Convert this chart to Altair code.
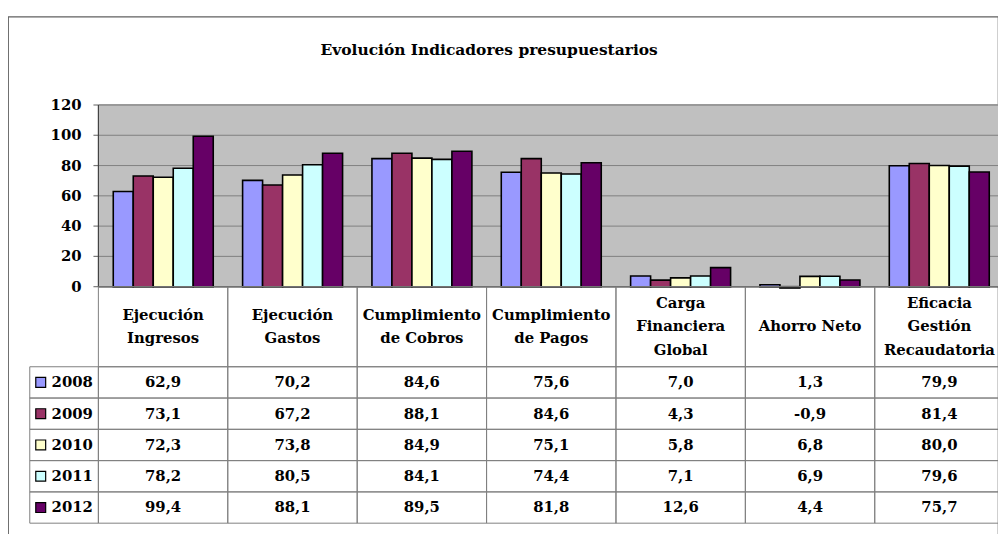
import altair as alt
import pandas as pd

# ---------------- data ----------------
categories = [
    "Ejecución Ingresos",
    "Ejecución Gastos",
    "Cumplimiento de Cobros",
    "Cumplimiento de Pagos",
    "Carga Financiera Global",
    "Ahorro Neto",
    "Eficacia Gestión Recaudatoria",
]
header_lines = [
    ["Ejecución", "Ingresos"],
    ["Ejecución", "Gastos"],
    ["Cumplimiento", "de Cobros"],
    ["Cumplimiento", "de Pagos"],
    ["Carga", "Financiera", "Global"],
    ["Ahorro Neto"],
    ["Eficacia", "Gestión", "Recaudatoria"],
]
years = ["2008", "2009", "2010", "2011", "2012"]
v2008 = [62.9, 70.2, 84.6, 75.6, 7.0, 1.3, 79.9]
v2009 = [73.1, 67.2, 88.1, 84.6, 4.3, -0.9, 81.4]
v2010 = [72.3, 73.8, 84.9, 75.1, 5.8, 6.8, 80.0]
v2011 = [78.2, 80.5, 84.1, 74.4, 7.1, 6.9, 79.6]
v2012 = [99.4, 88.1, 89.5, 81.8, 12.6, 4.4, 75.7]
y_ticks = [0, 20, 40, 60, 80, 100, 120]
colors = ["#9999FF", "#993366", "#FFFFCC", "#CCFFFF", "#660066"]

series = [v2008, v2009, v2010, v2011, v2012]
rows = []
for y, vals in zip(years, series):
    for c, v in zip(categories, vals):
        rows.append({"cat": c, "year": y, "value": v,
                     "label": f"{v:.1f}".replace(".", ",")})
df = pd.DataFrame(rows)

head_rows = []
for c, lines in zip(categories, header_lines):
    n = len(lines)
    for i, t in enumerate(lines):
        head_rows.append({"cat": c, "line": t, "off": i - (n - 1) / 2})
df_head_text = pd.DataFrame(head_rows)
df_head = pd.DataFrame({"cat": categories, "h": "h"})
df_ticks = pd.DataFrame({"tick": y_ticks})
df_grid = pd.DataFrame({"tick": [t for t in y_ticks if 0 < t < 120]})
df_leg = pd.DataFrame({"year": years, "leg": "leg"})
df_one = pd.DataFrame({"a": [0]})

FONT = "DejaVu Serif"

# ---------------- scales (layout) ----------------
XR = [91.3, 1006.2]
x_bar = alt.Scale(domain=categories, range=XR, paddingInner=0.227, paddingOuter=0.115)
x_tab = alt.Scale(domain=categories, range=XR, paddingInner=0, paddingOuter=0)
x_plot = alt.Scale(domain=[0, 1], range=XR)
x_leg = alt.Scale(domain=["leg"], range=[22, 91.3], paddingInner=0, paddingOuter=0)
y_val = alt.Scale(domain=[0, 120], range=[272.8, 89.3], zero=False, nice=False)
y_head = alt.Scale(domain=["h"], range=[272.8, 353.7], paddingInner=0, paddingOuter=0)
y_head_lines = alt.Scale(domain=[-1, 1], range=[289.0, 337.0], zero=False, nice=False)
y_rows = alt.Scale(domain=years, range=[353.7, 511.7], paddingInner=0, paddingOuter=0)
col_scale = alt.Scale(domain=years, range=colors)

XP0 = alt.X(datum=0, type="quantitative", scale=x_plot, axis=None)
XP1 = alt.X2(datum=1)

# ---------------- layers ----------------
bg = alt.Chart(df_one).mark_rect(fill="#C0C0C0").encode(
    x=XP0, x2=XP1,
    y=alt.Y(datum=0, type="quantitative", scale=y_val, axis=None),
    y2=alt.Y2(datum=120),
)

grid = alt.Chart(df_grid).mark_rule(color="#808080", strokeWidth=1).encode(
    x=XP0, x2=XP1,
    y=alt.Y("tick:Q", scale=y_val, axis=None),
)

top_border = alt.Chart(df_one).mark_rule(color="#999999", strokeWidth=2).encode(
    x=XP0, x2=XP1,
    y=alt.Y(datum=120, type="quantitative", scale=y_val, axis=None),
)

bars = alt.Chart(df).mark_bar(stroke="#000000", strokeWidth=1.6).encode(
    x=alt.X("cat:N", scale=x_bar, axis=None, sort=categories),
    xOffset=alt.XOffset("year:N", scale=alt.Scale(domain=years, paddingInner=0, paddingOuter=0)),
    y=alt.Y("value:Q", scale=y_val, axis=None),
    color=alt.Color("year:N", scale=col_scale, legend=None),
)

y_axis_line = alt.Chart(df_one).mark_rule(color="#404040", strokeWidth=1.2).encode(
    x=XP0,
    y=alt.Y(datum=0, type="quantitative", scale=y_val, axis=None),
    y2=alt.Y2(datum=120),
)

x_axis_line = alt.Chart(df_one).mark_rule(color="#303030", strokeWidth=1.5).encode(
    x=XP0, x2=XP1,
    y=alt.Y(datum=0, type="quantitative", scale=y_val, axis=None),
)

ticks = alt.Chart(df_ticks).mark_tick(
    color="#404040", thickness=1.2, size=5, orient="horizontal", xOffset=-2.5
).encode(
    x=XP0,
    y=alt.Y("tick:Q", scale=y_val, axis=None),
)

tick_labels = alt.Chart(df_ticks).mark_text(
    font=FONT, fontSize=15, fontWeight="bold", align="right", baseline="middle",
    dx=-17, color="#000000"
).encode(
    x=XP0,
    y=alt.Y("tick:Q", scale=y_val, axis=None),
    text=alt.Text("tick:Q"),
)

head_cells = alt.Chart(df_head).mark_rect(fill="#FFFFFF", fillOpacity=0, stroke="#808080", strokeWidth=1).encode(
    x=alt.X("cat:N", scale=x_tab, axis=None, sort=categories),
    y=alt.Y("h:N", scale=y_head, axis=None),
)

head_text = alt.Chart(df_head_text).mark_text(
    font=FONT, fontSize=15, fontWeight="bold", align="center", baseline="middle",
    color="#000000"
).encode(
    x=alt.X("cat:N", scale=x_tab, axis=None, sort=categories),
    y=alt.Y("off:Q", scale=y_head_lines, axis=None),
    text="line:N",
)

data_cells = alt.Chart(df).mark_rect(fill="#FFFFFF", fillOpacity=0, stroke="#808080", strokeWidth=1).encode(
    x=alt.X("cat:N", scale=x_tab, axis=None, sort=categories),
    y=alt.Y("year:N", scale=y_rows, axis=None),
)

data_text = alt.Chart(df).mark_text(
    font=FONT, fontSize=15, fontWeight="bold", align="center", baseline="middle",
    color="#000000"
).encode(
    x=alt.X("cat:N", scale=x_tab, axis=None, sort=categories),
    y=alt.Y("year:N", scale=y_rows, axis=None),
    text="label:N",
)

leg_cells = alt.Chart(df_leg).mark_rect(fill="#FFFFFF", fillOpacity=0, stroke="#808080", strokeWidth=1).encode(
    x=alt.X("leg:N", scale=x_leg, axis=None),
    y=alt.Y("year:N", scale=y_rows, axis=None),
)

leg_squares = alt.Chart(df_leg).mark_point(
    shape="square", filled=True, size=100, stroke="#000000", strokeWidth=1.2,
    opacity=1, xOffset=-23.6
).encode(
    x=alt.X("leg:N", scale=x_leg, axis=None),
    y=alt.Y("year:N", scale=y_rows, axis=None),
    fill=alt.Fill("year:N", scale=col_scale, legend=None),
)

leg_text = alt.Chart(df_leg).mark_text(
    font=FONT, fontSize=15, fontWeight="bold", align="left", baseline="middle",
    color="#000000", dx=-12.6
).encode(
    x=alt.X("leg:N", scale=x_leg, axis=None),
    y=alt.Y("year:N", scale=y_rows, axis=None),
    text="year:N",
)

chart = alt.layer(
    bg, grid, top_border, bars, y_axis_line, x_axis_line, ticks, tick_labels,
    head_cells, head_text, data_cells, data_text, leg_cells, leg_squares, leg_text,
).resolve_scale(
    x="independent", y="independent"
).properties(
    width=1000,
    height=525,
    padding={"left": 0, "top": 6, "right": 0, "bottom": 0},
    autosize=alt.AutoSizeParams(type="none"),
    title=alt.TitleParams(
        "Evolución Indicadores presupuestarios",
        font=FONT, fontSize=15.6, fontWeight="bold", color="#000000",
        anchor="middle", offset=-54, baseline="alphabetic", dx=-14,
    ),
).configure_view(stroke="#606060", strokeWidth=1.2)

chart.save("out.html", embed_options={"renderer": "svg", "actions": False})
